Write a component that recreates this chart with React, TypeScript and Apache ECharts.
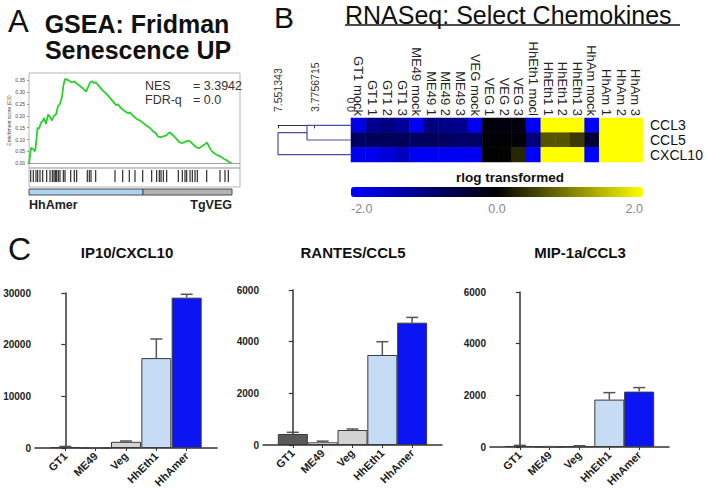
import React, { useEffect, useRef } from "react";
import * as echarts from "echarts";

const FONT = "'Liberation Sans', Arial, Helvetica, sans-serif";

// ---------- Panel A: GSEA ----------
const esRank = [0, 1, 2, 4, 6, 7, 8.5, 10, 12, 14, 15, 17, 19, 21, 23, 25, 27, 29, 31, 33, 34.5, 36, 39, 41, 43, 45, 48, 51, 54, 57, 59, 61, 63, 65, 67, 70, 74, 78, 82, 85, 87, 89, 92, 95, 99, 101, 104, 108, 111, 114, 117, 121, 124, 127, 129, 132, 134, 137, 139, 141, 144, 147, 150, 153, 156, 159, 161, 164, 167, 170, 173, 176, 178, 180, 183, 186, 189, 192, 195, 198, 200, 202, 203];
const esScore = [0, 0.03, 0.065, 0.06, 0.05, 0.08, 0.15, 0.145, 0.17, 0.18, 0.19, 0.165, 0.205, 0.195, 0.18, 0.2, 0.205, 0.24, 0.25, 0.28, 0.33, 0.355, 0.35, 0.345, 0.34, 0.345, 0.335, 0.325, 0.315, 0.302, 0.32, 0.34, 0.345, 0.338, 0.34, 0.325, 0.305, 0.29, 0.27, 0.255, 0.245, 0.248, 0.232, 0.222, 0.21, 0.214, 0.2, 0.186, 0.18, 0.17, 0.16, 0.148, 0.135, 0.125, 0.112, 0.11, 0.113, 0.116, 0.125, 0.13, 0.118, 0.105, 0.09, 0.085, 0.09, 0.095, 0.092, 0.08, 0.068, 0.063, 0.072, 0.08, 0.088, 0.07, 0.05, 0.04, 0.033, 0.027, 0.018, 0.012, 0.005, 0, 0.002];
const hitRanks = [1.7, 4.3, 7, 8.7, 11, 13.7, 17.7, 21, 23.3, 25, 26.3, 27.7, 29.3, 31, 34.3, 36, 41.7, 45.3, 47.7, 58.3, 60.3, 62, 66.7, 86, 93.7, 100.3, 106, 113.7, 122.7, 127.7, 130.3, 132, 134.3, 137.7, 149.3, 153.3, 156, 157.7, 161, 163.3, 166, 168.3, 177.7, 191, 196, 199.3];
const esTicks = [0, 0.05, 0.1, 0.15, 0.2, 0.25, 0.3, 0.35];
const phenotypeNames = ["HhAmer", "TgVEG"];
const phenotypeSpans = [[0, 114], [114, 203]];
const statNames = ["NES", "FDR-q"];
const statValues = ["= 3.3942", "= 0.0"];

// ---------- Panel B: heatmap ----------
const samples = ["GT1 mock", "GT1 1", "GT1 2", "GT1 3", "ME49 mock", "ME49 1", "ME49 2", "ME49 3", "VEG mock", "VEG 1", "VEG 2", "VEG 3", "HhEth1 mocl", "HhEth1 1", "HhEth1 2", "HhEth1 3", "HhAm mock", "HhAm 1", "HhAm 2", "HhAm 3"];
const genes = ["CCL3", "CCL5", "CXCL10"];
const ccl3 = [-1.8, -1.1, -1.0, -1.2, -1.9, -1.0, -1.05, -1.1, -1.9, -0.1, -0.1, -0.12, -2.0, 2.0, 2.0, 2.0, -2.0, 2.0, 2.0, 2.0];
const ccl5 = [-0.75, -0.7, -0.7, -0.72, -0.75, -0.72, -0.75, -0.8, -0.8, -0.05, -0.05, -0.05, -0.95, 0.67, 0.67, 0.45, -0.45, 2.0, 2.0, 2.0];
const cxcl10 = [-1.85, -1.85, -1.7, -1.5, -1.9, -1.9, -1.9, -1.9, -1.9, 0.0, 0.02, 0.3, -2.0, 2.0, 2.0, 2.0, -2.0, 2.0, 2.0, 2.0];
const dendroTicks = [7.551343, 3.7756715, 0.0];
const dendroTickLabels = ["7.551343", "3.7756715", "0.0"];
// merges: [childA, childB, height]; leaves are gene indices, "m0" refers to first merge
const dendroMerges: [number | string, number | string, number][] = [
  [0, 1, 4.55],
  ["m0", 2, 7.551343],
];
const colorScaleTicks = [-2, 0, 2];

// ---------- Panel C: cytokines ----------
const cytoCategories = ["GT1", "ME49", "Veg", "HhEth1", "HhAmer"];
const ip10Mean = [150, 20, 1200, 17400, 29100];
const ip10Err = [150, 10, 150, 3700, 650];
const rantesMean = [426, 103, 580, 3484, 4735];
const rantesErr = [65, 45, 40, 515, 205];
const mipMean = [40, 10, 30, 1835, 2144];
const mipErr = [25, 5, 20, 270, 155];
const ip10Ticks = [0, 10000, 20000, 30000];
const ccTicks = [0, 2000, 4000, 6000];

const barColors = ["#5a5a5a", "#ffffff", "#d3d3d3", "#c6dcf5", "#0b14f2"];

function buildOption() {
  const grid: any[] = [];
  const xAxis: any[] = [];
  const yAxis: any[] = [];
  const series: any[] = [];

  // grid 0: ES curve
  grid.push({ left: 29, top: 73, width: 211, height: 95, show: true, borderColor: "#b5b5b5", borderWidth: 1, backgroundColor: "transparent" });
  xAxis.push({ type: "value", gridIndex: 0, min: 0, max: 211, show: false });
  yAxis.push({
    type: "value", gridIndex: 0, min: -0.02, max: 0.38,
    axisLine: { show: false }, splitLine: { show: false },
    axisTick: { show: true, customValues: esTicks, length: 2, lineStyle: { color: "#999" } },
    axisLabel: { customValues: esTicks, formatter: (v: number) => v.toFixed(2), fontSize: 5, color: "#444", margin: 4, fontFamily: FONT },
    name: "Enrichment score (ES)", nameLocation: "middle", nameRotate: 90, nameGap: 18,
    nameTextStyle: { fontSize: 5, color: "#444", fontFamily: FONT },
  });
  series.push({
    type: "line", xAxisIndex: 0, yAxisIndex: 0,
    data: esRank.map((r, i) => [r, esScore[i]]),
    showSymbol: false, lineStyle: { color: "#2ad12a", width: 1.8 },
    markLine: { silent: true, symbol: "none", label: { show: false }, lineStyle: { color: "#a0a0a0", type: "solid", width: 1 }, data: [{ yAxis: 0 }] },
    z: 3,
  });

  // grid 1: hits
  grid.push({ left: 29, top: 168, width: 211, height: 19, show: true, borderColor: "#b5b5b5", borderWidth: 1 });
  xAxis.push({ type: "value", gridIndex: 1, min: 0, max: 211, show: false });
  yAxis.push({ type: "value", gridIndex: 1, min: 0, max: 1, show: false });
  series.push({
    type: "custom", xAxisIndex: 1, yAxisIndex: 1,
    data: hitRanks.map((r) => [r]),
    renderItem: (_p: any, api: any) => {
      const x = api.value(0);
      const a = api.coord([x, 0.26]);
      const b = api.coord([x, 0.89]);
      return { type: "line", shape: { x1: a[0], y1: a[1], x2: b[0], y2: b[1] }, style: { stroke: "#1a1a1a", lineWidth: 1.1 } };
    },
  });

  // grid 2: phenotype bar
  grid.push({ left: 29, top: 189, width: 211, height: 6 });
  xAxis.push({ type: "value", gridIndex: 2, min: 0, max: 211, show: false });
  yAxis.push({ type: "value", gridIndex: 2, min: 0, max: 1, show: false });
  const phenoColors = ["#acd4f0", "#b4b4b4"];
  series.push({
    type: "custom", xAxisIndex: 2, yAxisIndex: 2,
    data: phenotypeSpans.map((s, i) => [s[0], s[1], i]),
    renderItem: (_p: any, api: any) => {
      const a = api.coord([api.value(0), 1]);
      const b = api.coord([api.value(1), 0]);
      return { type: "rect", shape: { x: a[0], y: a[1], width: b[0] - a[0], height: b[1] - a[1] }, style: { fill: phenoColors[api.value(2)], stroke: "#4a4a4a", lineWidth: 1 } };
    },
  });

  // grid 3: dendrogram
  grid.push({ left: 278, top: 118, width: 73, height: 44 });
  xAxis.push({
    type: "value", gridIndex: 3, min: 0, max: dendroTicks[0], inverse: true, position: "top", offset: 3,
    axisLine: { show: true, lineStyle: { color: "#333", width: 1 } },
    axisTick: { show: true, inside: true, length: 3, customValues: dendroTicks, lineStyle: { color: "#333" } },
    axisLabel: {
      customValues: dendroTicks, rotate: 90, fontSize: 10.5, color: "#333", margin: 3, fontFamily: FONT,
      formatter: (v: number) => { const i = dendroTicks.findIndex((t) => Math.abs(t - v) < 1e-6); return i >= 0 ? dendroTickLabels[i] : ""; },
    },
    splitLine: { show: false },
  });
  yAxis.push({ type: "value", gridIndex: 3, min: -0.5, max: 2.5, inverse: true, show: false });
  const nodePos: Record<string, [number, number]> = {};
  const posOf = (k: number | string): [number, number] => (typeof k === "number" ? [0, k] : nodePos[k]);
  dendroMerges.forEach((m, i) => {
    const [a, b, h] = m;
    const pa = posOf(a);
    const pb = posOf(b);
    nodePos["m" + i] = [h, (pa[1] + pb[1]) / 2];
    series.push({
      type: "line", xAxisIndex: 3, yAxisIndex: 3, symbol: "none", silent: true,
      lineStyle: { color: "#4d4d9e", width: 1.2 },
      data: [[pa[0], pa[1]], [h, pa[1]], [h, pb[1]], [pb[0], pb[1]]],
    });
  });

  // grid 4: heatmap
  grid.push({ left: 351, top: 118, width: 292, height: 44 });
  xAxis.push({
    type: "category", gridIndex: 4, data: samples, position: "top",
    axisLine: { show: false }, axisTick: { show: false },
    axisLabel: { rotate: 90, fontSize: 13, color: "#222", margin: 2, interval: 0, fontFamily: FONT },
  });
  yAxis.push({
    type: "category", gridIndex: 4, data: genes, inverse: true, position: "right",
    axisLine: { show: false }, axisTick: { show: false },
    axisLabel: { fontSize: 14, color: "#111", margin: 7, interval: 0, fontFamily: FONT },
  });
  const rows = [ccl3, ccl5, cxcl10];
  const hmData: any[] = [];
  rows.forEach((row, r) => row.forEach((v, c) => hmData.push([c, r, v])));
  const heatmapIndex = series.length;
  series.push({ type: "heatmap", xAxisIndex: 4, yAxisIndex: 4, data: hmData, itemStyle: { borderWidth: 0 } });

  // grid 5: color scale labels
  grid.push({ left: 351, top: 187, width: 292, height: 10 });
  xAxis.push({
    type: "value", gridIndex: 5, min: -2, max: 2, interval: 2,
    axisLine: { show: false }, axisTick: { show: false }, splitLine: { show: false },
    axisLabel: { formatter: (v: number) => v.toFixed(1), color: "#888", fontSize: 12.5, margin: 5, fontFamily: FONT, alignMinLabel: "left", alignMaxLabel: "right", customValues: colorScaleTicks },
  });
  yAxis.push({ type: "value", gridIndex: 5, min: 0, max: 1, show: false });
  series.push({ type: "scatter", xAxisIndex: 5, yAxisIndex: 5, data: [], silent: true });

  // Panel C bar charts
  const charts = [
    { left: 35, top: 293, width: 182, means: ip10Mean, errs: ip10Err, ticks: ip10Ticks },
    { left: 263, top: 290, width: 179, means: rantesMean, errs: rantesErr, ticks: ccTicks },
    { left: 490, top: 292, width: 179, means: mipMean, errs: mipErr, ticks: ccTicks },
  ];
  charts.forEach((c) => {
    const gi = grid.length;
    grid.push({ left: c.left, top: c.top, width: c.width, height: 155 });
    xAxis.push({
      type: "value", gridIndex: gi, min: -1, max: 5,
      axisLine: { show: true, lineStyle: { color: "#333", width: 1.5 } },
      axisTick: { show: true, customValues: [0, 1, 2, 3, 4], length: 3, lineStyle: { color: "#333", width: 1 } },
      axisLabel: { customValues: [0, 1, 2, 3, 4], formatter: (v: number) => cytoCategories[Math.round(v)] ?? "", rotate: 45, fontSize: 11, fontWeight: "bold", color: "#222", margin: 6, fontFamily: FONT },
      splitLine: { show: false },
    });
    const step = c.ticks[1] - c.ticks[0];
    yAxis.push({
      type: "value", gridIndex: gi, min: c.ticks[0], max: c.ticks[c.ticks.length - 1], interval: step,
      axisLine: { show: true, lineStyle: { color: "#333", width: 1.5 } },
      axisTick: { show: true, length: 4, lineStyle: { color: "#333", width: 1.2 } },
      axisLabel: { formatter: (v: number) => String(v), fontSize: 10, fontWeight: "bold", color: "#222", margin: 4, fontFamily: FONT },
      splitLine: { show: false },
    });
    series.push({
      type: "bar", xAxisIndex: gi, yAxisIndex: gi, barWidth: 30,
      data: c.means.map((m, i) => ({ value: [i, m], itemStyle: { color: barColors[i], borderColor: "#3a3a3a", borderWidth: 1 } })),
      z: 2,
    });
    series.push({
      type: "custom", xAxisIndex: gi, yAxisIndex: gi, z: 3,
      data: c.means.map((m, i) => [i, m, c.errs[i]]),
      renderItem: (_p: any, api: any) => {
        const x = api.value(0), m = api.value(1), e = api.value(2);
        const p0 = api.coord([x, m]);
        const p1 = api.coord([x, m + e]);
        const st = { stroke: "#555", lineWidth: 1.5 };
        return {
          type: "group",
          children: [
            { type: "line", shape: { x1: p0[0], y1: p0[1], x2: p1[0], y2: p1[1] }, style: st },
            { type: "line", shape: { x1: p1[0] - 6, y1: p1[1], x2: p1[0] + 6, y2: p1[1] }, style: st },
          ],
        };
      },
    });
  });

  const txt = (x: number, y: number, text: string, size: number, opts: any = {}) => ({
    type: "text", x, y, silent: true,
    style: { text, fontSize: size, fontFamily: FONT, fill: opts.fill || "#111", fontWeight: opts.weight || "normal", align: opts.align || "left", verticalAlign: "middle" },
  });

  const graphic: any[] = [
    txt(8, 21, "A", 31),
    txt(137, 24, "GSEA: Fridman", 25, { weight: "bold", align: "center" }),
    txt(138, 50, "Senescence UP", 25, { weight: "bold", align: "center" }),
    txt(145, 86, statNames[0], 12.5, { fill: "#333" }),
    txt(193, 86, statValues[0], 12.5, { fill: "#333" }),
    txt(145, 99.5, statNames[1], 12.5, { fill: "#333" }),
    txt(193, 99.5, statValues[1], 12.5, { fill: "#333" }),
    txt(29, 205, phenotypeNames[0], 12.5, { weight: "bold", fill: "#222" }),
    txt(232, 205, phenotypeNames[1], 12.5, { weight: "bold", fill: "#222", align: "right" }),
    txt(274, 17, "B", 30),
    txt(345, 15, "RNASeq: Select Chemokines", 25, { fill: "#111" }),
    { type: "line", silent: true, shape: { x1: 345, y1: 25, x2: 680, y2: 25 }, style: { stroke: "#111", lineWidth: 1.3 } },
    txt(510, 177, "rlog transformed", 13.5, { weight: "bold", align: "center" }),
    txt(8, 249, "C", 32),
    txt(127, 252, "IP10/CXCL10", 15, { weight: "bold", align: "center" }),
    txt(353, 252, "RANTES/CCL5", 15, { weight: "bold", align: "center" }),
    txt(580, 252, "MIP-1a/CCL3", 15, { weight: "bold", align: "center" }),
  ];

  return {
    animation: false,
    backgroundColor: "#ffffff",
    textStyle: { fontFamily: FONT },
    grid, xAxis, yAxis, series, graphic,
    visualMap: {
      type: "continuous", min: -2, max: 2, seriesIndex: heatmapIndex, dimension: 2,
      orient: "horizontal", left: 351, top: 187, itemWidth: 10, itemHeight: 292,
      calculable: false, padding: 0, text: ["", ""], textGap: 0, hoverLink: false,
      inRange: { color: ["#0000ff", "#000000", "#ffff00"] },
    },
  };
}

export default function App() {
  const ref = useRef<HTMLDivElement>(null);
  useEffect(() => {
    const chart = echarts.init(ref.current!, null, { renderer: "svg" });
    chart.setOption(buildOption() as any);
    return () => chart.dispose();
  }, []);
  return <div ref={ref} style={{ position: "fixed", left: 0, top: 0, width: 707, height: 492, background: "#fff" }} />;
}
